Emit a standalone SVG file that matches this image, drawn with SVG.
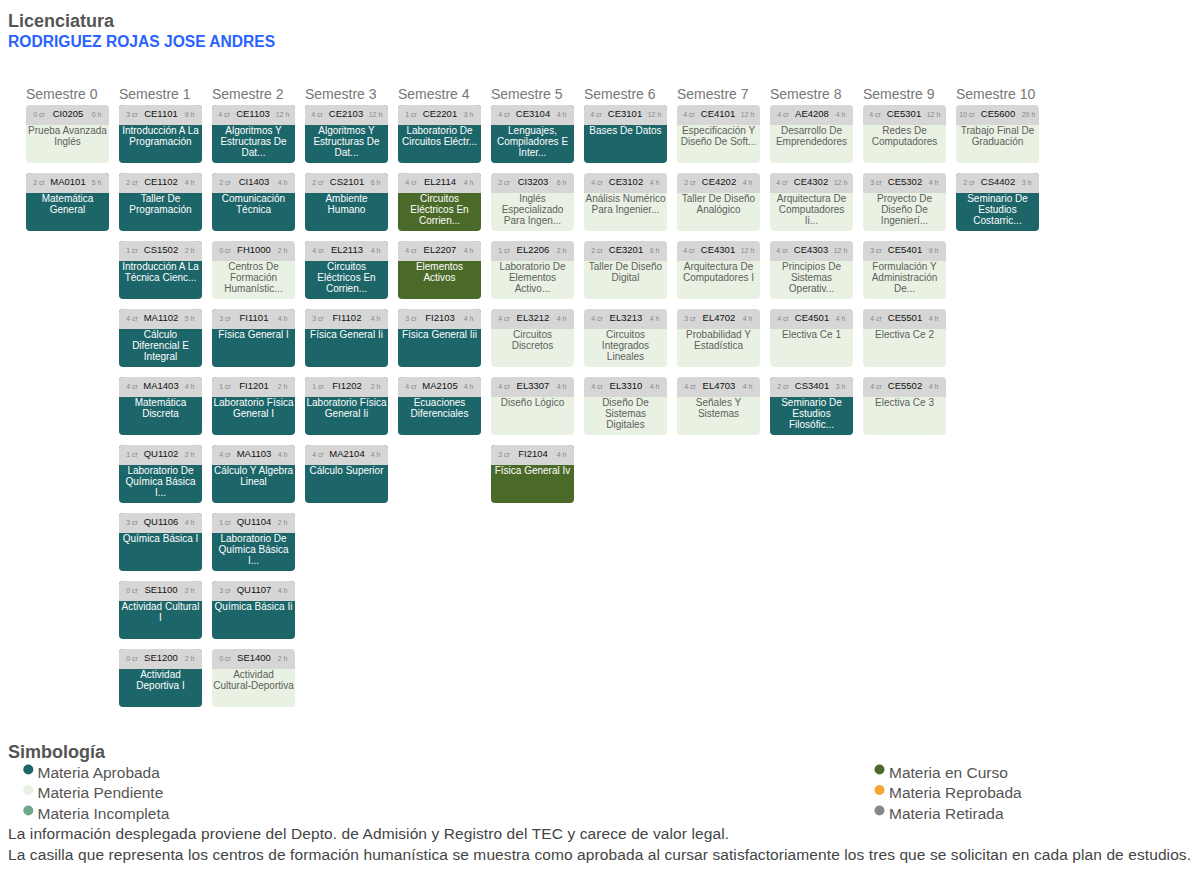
<svg xmlns="http://www.w3.org/2000/svg" width="1194" height="872" viewBox="0 0 1194 872">
<style>
text{font-family:"Liberation Sans",Arial,sans-serif}
.title{font-size:18px;font-weight:bold;fill:#555}
.name{font-size:15.6px;font-weight:bold;fill:#2962ff}
.sem{font-size:14px;fill:#777}
.hd{fill:#d6d6d6}
.ok .bd{fill:#1c6569}
.pe .bd{fill:#e9f1e2}
.cu .bd{fill:#4b6a2a}
.cr,.hr{font-size:7px;fill:#888;text-anchor:middle}
.cd{font-size:9.5px;fill:#111;text-anchor:middle}
.tt{font-size:10px;text-anchor:middle}
.ok .tt,.cu .tt{fill:#fff}
.pe .tt{fill:#5e5e5e}
.lg{font-size:15.5px;fill:#555}
.ft{font-size:15.5px;fill:#444}
</style>
<defs>
<path id="head" d="M0 20V4a4 4 0 0 1 4-4h75a4 4 0 0 1 4 4v16z"/>
</defs>

<text class="title" x="8" y="27">Licenciatura</text>
<text class="name" x="8" y="47">RODRIGUEZ ROJAS JOSE ANDRES</text>

<g id="semesters">
<text class="sem" x="26" y="99">Semestre 0</text>
<text class="sem" x="119" y="99">Semestre 1</text>
<text class="sem" x="212" y="99">Semestre 2</text>
<text class="sem" x="305" y="99">Semestre 3</text>
<text class="sem" x="398" y="99">Semestre 4</text>
<text class="sem" x="491" y="99">Semestre 5</text>
<text class="sem" x="584" y="99">Semestre 6</text>
<text class="sem" x="677" y="99">Semestre 7</text>
<text class="sem" x="770" y="99">Semestre 8</text>
<text class="sem" x="863" y="99">Semestre 9</text>
<text class="sem" x="956" y="99">Semestre 10</text>
</g>

<!-- Semestre 0 -->
<g id="CI0205" class="pe" transform="translate(26 105)"><rect class="bd" width="83" height="58" rx="4"/><use href="#head" class="hd"/><text class="cr" x="13" y="12.3">0 cr</text><text class="cd" x="42" y="12.3">CI0205</text><text class="hr" x="70.5" y="12.3">0 h</text><text class="tt" y="29"><tspan x="41.5">Prueba Avanzada</tspan><tspan x="41.5" dy="11">Inglés</tspan></text></g>
<g id="MA0101" class="ok" transform="translate(26 173)"><rect class="bd" width="83" height="58" rx="4"/><use href="#head" class="hd"/><text class="cr" x="13" y="12.3">2 cr</text><text class="cd" x="42" y="12.3">MA0101</text><text class="hr" x="70.5" y="12.3">5 h</text><text class="tt" y="29"><tspan x="41.5">Matemática</tspan><tspan x="41.5" dy="11">General</tspan></text></g>

<!-- Semestre 1 -->
<g id="CE1101" class="ok" transform="translate(119 105)"><rect class="bd" width="83" height="58" rx="4"/><use href="#head" class="hd"/><text class="cr" x="13" y="12.3">3 cr</text><text class="cd" x="42" y="12.3">CE1101</text><text class="hr" x="70.5" y="12.3">9 h</text><text class="tt" y="29"><tspan x="41.5">Introducción A La</tspan><tspan x="41.5" dy="11">Programación</tspan></text></g>
<g id="CE1102" class="ok" transform="translate(119 173)"><rect class="bd" width="83" height="58" rx="4"/><use href="#head" class="hd"/><text class="cr" x="13" y="12.3">2 cr</text><text class="cd" x="42" y="12.3">CE1102</text><text class="hr" x="70.5" y="12.3">4 h</text><text class="tt" y="29"><tspan x="41.5">Taller De</tspan><tspan x="41.5" dy="11">Programación</tspan></text></g>
<g id="CS1502" class="ok" transform="translate(119 241)"><rect class="bd" width="83" height="58" rx="4"/><use href="#head" class="hd"/><text class="cr" x="13" y="12.3">1 cr</text><text class="cd" x="42" y="12.3">CS1502</text><text class="hr" x="70.5" y="12.3">2 h</text><text class="tt" y="29"><tspan x="41.5">Introducción A La</tspan><tspan x="41.5" dy="11">Técnica Cienc...</tspan></text></g>
<g id="MA1102" class="ok" transform="translate(119 309)"><rect class="bd" width="83" height="58" rx="4"/><use href="#head" class="hd"/><text class="cr" x="13" y="12.3">4 cr</text><text class="cd" x="42" y="12.3">MA1102</text><text class="hr" x="70.5" y="12.3">5 h</text><text class="tt" y="29"><tspan x="41.5">Cálculo</tspan><tspan x="41.5" dy="11">Diferencial E</tspan><tspan x="41.5" dy="11">Integral</tspan></text></g>
<g id="MA1403" class="ok" transform="translate(119 377)"><rect class="bd" width="83" height="58" rx="4"/><use href="#head" class="hd"/><text class="cr" x="13" y="12.3">4 cr</text><text class="cd" x="42" y="12.3">MA1403</text><text class="hr" x="70.5" y="12.3">4 h</text><text class="tt" y="29"><tspan x="41.5">Matemática</tspan><tspan x="41.5" dy="11">Discreta</tspan></text></g>
<g id="QU1102" class="ok" transform="translate(119 445)"><rect class="bd" width="83" height="58" rx="4"/><use href="#head" class="hd"/><text class="cr" x="13" y="12.3">1 cr</text><text class="cd" x="42" y="12.3">QU1102</text><text class="hr" x="70.5" y="12.3">2 h</text><text class="tt" y="29"><tspan x="41.5">Laboratorio De</tspan><tspan x="41.5" dy="11">Química Básica</tspan><tspan x="41.5" dy="11">I...</tspan></text></g>
<g id="QU1106" class="ok" transform="translate(119 513)"><rect class="bd" width="83" height="58" rx="4"/><use href="#head" class="hd"/><text class="cr" x="13" y="12.3">3 cr</text><text class="cd" x="42" y="12.3">QU1106</text><text class="hr" x="70.5" y="12.3">4 h</text><text class="tt" y="29"><tspan x="41.5">Química Básica I</tspan></text></g>
<g id="SE1100" class="ok" transform="translate(119 581)"><rect class="bd" width="83" height="58" rx="4"/><use href="#head" class="hd"/><text class="cr" x="13" y="12.3">0 cr</text><text class="cd" x="42" y="12.3">SE1100</text><text class="hr" x="70.5" y="12.3">2 h</text><text class="tt" y="29"><tspan x="41.5">Actividad Cultural</tspan><tspan x="41.5" dy="11">I</tspan></text></g>
<g id="SE1200" class="ok" transform="translate(119 649)"><rect class="bd" width="83" height="58" rx="4"/><use href="#head" class="hd"/><text class="cr" x="13" y="12.3">0 cr</text><text class="cd" x="42" y="12.3">SE1200</text><text class="hr" x="70.5" y="12.3">2 h</text><text class="tt" y="29"><tspan x="41.5">Actividad</tspan><tspan x="41.5" dy="11">Deportiva I</tspan></text></g>

<!-- Semestre 2 -->
<g id="CE1103" class="ok" transform="translate(212 105)"><rect class="bd" width="83" height="58" rx="4"/><use href="#head" class="hd"/><text class="cr" x="12" y="12.3">4 cr</text><text class="cd" x="41" y="12.3">CE1103</text><text class="hr" x="70.5" y="12.3">12 h</text><text class="tt" y="29"><tspan x="41.5">Algoritmos Y</tspan><tspan x="41.5" dy="11">Estructuras De</tspan><tspan x="41.5" dy="11">Dat...</tspan></text></g>
<g id="CI1403" class="ok" transform="translate(212 173)"><rect class="bd" width="83" height="58" rx="4"/><use href="#head" class="hd"/><text class="cr" x="13" y="12.3">2 cr</text><text class="cd" x="42" y="12.3">CI1403</text><text class="hr" x="70.5" y="12.3">4 h</text><text class="tt" y="29"><tspan x="41.5">Comunicación</tspan><tspan x="41.5" dy="11">Técnica</tspan></text></g>
<g id="FH1000" class="pe" transform="translate(212 241)"><rect class="bd" width="83" height="58" rx="4"/><use href="#head" class="hd"/><text class="cr" x="13" y="12.3">0 cr</text><text class="cd" x="42" y="12.3">FH1000</text><text class="hr" x="70.5" y="12.3">2 h</text><text class="tt" y="29"><tspan x="41.5">Centros De</tspan><tspan x="41.5" dy="11">Formación</tspan><tspan x="41.5" dy="11">Humanístic...</tspan></text></g>
<g id="FI1101" class="ok" transform="translate(212 309)"><rect class="bd" width="83" height="58" rx="4"/><use href="#head" class="hd"/><text class="cr" x="13" y="12.3">3 cr</text><text class="cd" x="42" y="12.3">FI1101</text><text class="hr" x="70.5" y="12.3">4 h</text><text class="tt" y="29"><tspan x="41.5">Física General I</tspan></text></g>
<g id="FI1201" class="ok" transform="translate(212 377)"><rect class="bd" width="83" height="58" rx="4"/><use href="#head" class="hd"/><text class="cr" x="13" y="12.3">1 cr</text><text class="cd" x="42" y="12.3">FI1201</text><text class="hr" x="70.5" y="12.3">2 h</text><text class="tt" y="29"><tspan x="41.5">Laboratorio Física</tspan><tspan x="41.5" dy="11">General I</tspan></text></g>
<g id="MA1103" class="ok" transform="translate(212 445)"><rect class="bd" width="83" height="58" rx="4"/><use href="#head" class="hd"/><text class="cr" x="13" y="12.3">4 cr</text><text class="cd" x="42" y="12.3">MA1103</text><text class="hr" x="70.5" y="12.3">4 h</text><text class="tt" y="29"><tspan x="41.5">Cálculo Y Algebra</tspan><tspan x="41.5" dy="11">Lineal</tspan></text></g>
<g id="QU1104" class="ok" transform="translate(212 513)"><rect class="bd" width="83" height="58" rx="4"/><use href="#head" class="hd"/><text class="cr" x="13" y="12.3">1 cr</text><text class="cd" x="42" y="12.3">QU1104</text><text class="hr" x="70.5" y="12.3">2 h</text><text class="tt" y="29"><tspan x="41.5">Laboratorio De</tspan><tspan x="41.5" dy="11">Química Básica</tspan><tspan x="41.5" dy="11">I...</tspan></text></g>
<g id="QU1107" class="ok" transform="translate(212 581)"><rect class="bd" width="83" height="58" rx="4"/><use href="#head" class="hd"/><text class="cr" x="13" y="12.3">3 cr</text><text class="cd" x="42" y="12.3">QU1107</text><text class="hr" x="70.5" y="12.3">4 h</text><text class="tt" y="29"><tspan x="41.5">Química Básica Ii</tspan></text></g>
<g id="SE1400" class="pe" transform="translate(212 649)"><rect class="bd" width="83" height="58" rx="4"/><use href="#head" class="hd"/><text class="cr" x="13" y="12.3">0 cr</text><text class="cd" x="42" y="12.3">SE1400</text><text class="hr" x="70.5" y="12.3">2 h</text><text class="tt" y="29"><tspan x="41.5">Actividad</tspan><tspan x="41.5" dy="11">Cultural-Deportiva</tspan></text></g>

<!-- Semestre 3 -->
<g id="CE2103" class="ok" transform="translate(305 105)"><rect class="bd" width="83" height="58" rx="4"/><use href="#head" class="hd"/><text class="cr" x="12" y="12.3">4 cr</text><text class="cd" x="41" y="12.3">CE2103</text><text class="hr" x="70.5" y="12.3">12 h</text><text class="tt" y="29"><tspan x="41.5">Algoritmos Y</tspan><tspan x="41.5" dy="11">Estructuras De</tspan><tspan x="41.5" dy="11">Dat...</tspan></text></g>
<g id="CS2101" class="ok" transform="translate(305 173)"><rect class="bd" width="83" height="58" rx="4"/><use href="#head" class="hd"/><text class="cr" x="13" y="12.3">2 cr</text><text class="cd" x="42" y="12.3">CS2101</text><text class="hr" x="70.5" y="12.3">6 h</text><text class="tt" y="29"><tspan x="41.5">Ambiente</tspan><tspan x="41.5" dy="11">Humano</tspan></text></g>
<g id="EL2113" class="ok" transform="translate(305 241)"><rect class="bd" width="83" height="58" rx="4"/><use href="#head" class="hd"/><text class="cr" x="13" y="12.3">4 cr</text><text class="cd" x="42" y="12.3">EL2113</text><text class="hr" x="70.5" y="12.3">4 h</text><text class="tt" y="29"><tspan x="41.5">Circuitos</tspan><tspan x="41.5" dy="11">Eléctricos En</tspan><tspan x="41.5" dy="11">Corrien...</tspan></text></g>
<g id="FI1102" class="ok" transform="translate(305 309)"><rect class="bd" width="83" height="58" rx="4"/><use href="#head" class="hd"/><text class="cr" x="13" y="12.3">3 cr</text><text class="cd" x="42" y="12.3">FI1102</text><text class="hr" x="70.5" y="12.3">4 h</text><text class="tt" y="29"><tspan x="41.5">Física General Ii</tspan></text></g>
<g id="FI1202" class="ok" transform="translate(305 377)"><rect class="bd" width="83" height="58" rx="4"/><use href="#head" class="hd"/><text class="cr" x="13" y="12.3">1 cr</text><text class="cd" x="42" y="12.3">FI1202</text><text class="hr" x="70.5" y="12.3">2 h</text><text class="tt" y="29"><tspan x="41.5">Laboratorio Física</tspan><tspan x="41.5" dy="11">General Ii</tspan></text></g>
<g id="MA2104" class="ok" transform="translate(305 445)"><rect class="bd" width="83" height="58" rx="4"/><use href="#head" class="hd"/><text class="cr" x="13" y="12.3">4 cr</text><text class="cd" x="42" y="12.3">MA2104</text><text class="hr" x="70.5" y="12.3">4 h</text><text class="tt" y="29"><tspan x="41.5">Cálculo Superior</tspan></text></g>

<!-- Semestre 4 -->
<g id="CE2201" class="ok" transform="translate(398 105)"><rect class="bd" width="83" height="58" rx="4"/><use href="#head" class="hd"/><text class="cr" x="13" y="12.3">1 cr</text><text class="cd" x="42" y="12.3">CE2201</text><text class="hr" x="70.5" y="12.3">3 h</text><text class="tt" y="29"><tspan x="41.5">Laboratorio De</tspan><tspan x="41.5" dy="11">Circuitos Eléctr...</tspan></text></g>
<g id="EL2114" class="cu" transform="translate(398 173)"><rect class="bd" width="83" height="58" rx="4"/><use href="#head" class="hd"/><text class="cr" x="13" y="12.3">4 cr</text><text class="cd" x="42" y="12.3">EL2114</text><text class="hr" x="70.5" y="12.3">4 h</text><text class="tt" y="29"><tspan x="41.5">Circuitos</tspan><tspan x="41.5" dy="11">Eléctricos En</tspan><tspan x="41.5" dy="11">Corrien...</tspan></text></g>
<g id="EL2207" class="cu" transform="translate(398 241)"><rect class="bd" width="83" height="58" rx="4"/><use href="#head" class="hd"/><text class="cr" x="13" y="12.3">4 cr</text><text class="cd" x="42" y="12.3">EL2207</text><text class="hr" x="70.5" y="12.3">4 h</text><text class="tt" y="29"><tspan x="41.5">Elementos</tspan><tspan x="41.5" dy="11">Activos</tspan></text></g>
<g id="FI2103" class="ok" transform="translate(398 309)"><rect class="bd" width="83" height="58" rx="4"/><use href="#head" class="hd"/><text class="cr" x="13" y="12.3">3 cr</text><text class="cd" x="42" y="12.3">FI2103</text><text class="hr" x="70.5" y="12.3">4 h</text><text class="tt" y="29"><tspan x="41.5">Física General Iii</tspan></text></g>
<g id="MA2105" class="ok" transform="translate(398 377)"><rect class="bd" width="83" height="58" rx="4"/><use href="#head" class="hd"/><text class="cr" x="13" y="12.3">4 cr</text><text class="cd" x="42" y="12.3">MA2105</text><text class="hr" x="70.5" y="12.3">4 h</text><text class="tt" y="29"><tspan x="41.5">Ecuaciones</tspan><tspan x="41.5" dy="11">Diferenciales</tspan></text></g>

<!-- Semestre 5 -->
<g id="CE3104" class="ok" transform="translate(491 105)"><rect class="bd" width="83" height="58" rx="4"/><use href="#head" class="hd"/><text class="cr" x="13" y="12.3">4 cr</text><text class="cd" x="42" y="12.3">CE3104</text><text class="hr" x="70.5" y="12.3">4 h</text><text class="tt" y="29"><tspan x="41.5">Lenguajes,</tspan><tspan x="41.5" dy="11">Compiladores E</tspan><tspan x="41.5" dy="11">Inter...</tspan></text></g>
<g id="CI3203" class="pe" transform="translate(491 173)"><rect class="bd" width="83" height="58" rx="4"/><use href="#head" class="hd"/><text class="cr" x="13" y="12.3">2 cr</text><text class="cd" x="42" y="12.3">CI3203</text><text class="hr" x="70.5" y="12.3">6 h</text><text class="tt" y="29"><tspan x="41.5">Inglés</tspan><tspan x="41.5" dy="11">Especializado</tspan><tspan x="41.5" dy="11">Para Ingen...</tspan></text></g>
<g id="EL2206" class="pe" transform="translate(491 241)"><rect class="bd" width="83" height="58" rx="4"/><use href="#head" class="hd"/><text class="cr" x="13" y="12.3">1 cr</text><text class="cd" x="42" y="12.3">EL2206</text><text class="hr" x="70.5" y="12.3">2 h</text><text class="tt" y="29"><tspan x="41.5">Laboratorio De</tspan><tspan x="41.5" dy="11">Elementos</tspan><tspan x="41.5" dy="11">Activo...</tspan></text></g>
<g id="EL3212" class="pe" transform="translate(491 309)"><rect class="bd" width="83" height="58" rx="4"/><use href="#head" class="hd"/><text class="cr" x="13" y="12.3">4 cr</text><text class="cd" x="42" y="12.3">EL3212</text><text class="hr" x="70.5" y="12.3">4 h</text><text class="tt" y="29"><tspan x="41.5">Circuitos</tspan><tspan x="41.5" dy="11">Discretos</tspan></text></g>
<g id="EL3307" class="pe" transform="translate(491 377)"><rect class="bd" width="83" height="58" rx="4"/><use href="#head" class="hd"/><text class="cr" x="13" y="12.3">4 cr</text><text class="cd" x="42" y="12.3">EL3307</text><text class="hr" x="70.5" y="12.3">4 h</text><text class="tt" y="29"><tspan x="41.5">Diseño Lógico</tspan></text></g>
<g id="FI2104" class="cu" transform="translate(491 445)"><rect class="bd" width="83" height="58" rx="4"/><use href="#head" class="hd"/><text class="cr" x="13" y="12.3">3 cr</text><text class="cd" x="42" y="12.3">FI2104</text><text class="hr" x="70.5" y="12.3">4 h</text><text class="tt" y="29"><tspan x="41.5">Física General Iv</tspan></text></g>

<!-- Semestre 6 -->
<g id="CE3101" class="ok" transform="translate(584 105)"><rect class="bd" width="83" height="58" rx="4"/><use href="#head" class="hd"/><text class="cr" x="12" y="12.3">4 cr</text><text class="cd" x="41" y="12.3">CE3101</text><text class="hr" x="70.5" y="12.3">12 h</text><text class="tt" y="29"><tspan x="41.5">Bases De Datos</tspan></text></g>
<g id="CE3102" class="pe" transform="translate(584 173)"><rect class="bd" width="83" height="58" rx="4"/><use href="#head" class="hd"/><text class="cr" x="13" y="12.3">4 cr</text><text class="cd" x="42" y="12.3">CE3102</text><text class="hr" x="70.5" y="12.3">4 h</text><text class="tt" y="29"><tspan x="41.5">Análisis Numérico</tspan><tspan x="41.5" dy="11">Para Ingenier...</tspan></text></g>
<g id="CE3201" class="pe" transform="translate(584 241)"><rect class="bd" width="83" height="58" rx="4"/><use href="#head" class="hd"/><text class="cr" x="13" y="12.3">2 cr</text><text class="cd" x="42" y="12.3">CE3201</text><text class="hr" x="70.5" y="12.3">6 h</text><text class="tt" y="29"><tspan x="41.5">Taller De Diseño</tspan><tspan x="41.5" dy="11">Digital</tspan></text></g>
<g id="EL3213" class="pe" transform="translate(584 309)"><rect class="bd" width="83" height="58" rx="4"/><use href="#head" class="hd"/><text class="cr" x="13" y="12.3">4 cr</text><text class="cd" x="42" y="12.3">EL3213</text><text class="hr" x="70.5" y="12.3">4 h</text><text class="tt" y="29"><tspan x="41.5">Circuitos</tspan><tspan x="41.5" dy="11">Integrados</tspan><tspan x="41.5" dy="11">Lineales</tspan></text></g>
<g id="EL3310" class="pe" transform="translate(584 377)"><rect class="bd" width="83" height="58" rx="4"/><use href="#head" class="hd"/><text class="cr" x="13" y="12.3">4 cr</text><text class="cd" x="42" y="12.3">EL3310</text><text class="hr" x="70.5" y="12.3">4 h</text><text class="tt" y="29"><tspan x="41.5">Diseño De</tspan><tspan x="41.5" dy="11">Sistemas</tspan><tspan x="41.5" dy="11">Digitales</tspan></text></g>

<!-- Semestre 7 -->
<g id="CE4101" class="pe" transform="translate(677 105)"><rect class="bd" width="83" height="58" rx="4"/><use href="#head" class="hd"/><text class="cr" x="12" y="12.3">4 cr</text><text class="cd" x="41" y="12.3">CE4101</text><text class="hr" x="70.5" y="12.3">12 h</text><text class="tt" y="29"><tspan x="41.5">Especificación Y</tspan><tspan x="41.5" dy="11">Diseño De Soft...</tspan></text></g>
<g id="CE4202" class="pe" transform="translate(677 173)"><rect class="bd" width="83" height="58" rx="4"/><use href="#head" class="hd"/><text class="cr" x="13" y="12.3">2 cr</text><text class="cd" x="42" y="12.3">CE4202</text><text class="hr" x="70.5" y="12.3">4 h</text><text class="tt" y="29"><tspan x="41.5">Taller De Diseño</tspan><tspan x="41.5" dy="11">Analógico</tspan></text></g>
<g id="CE4301" class="pe" transform="translate(677 241)"><rect class="bd" width="83" height="58" rx="4"/><use href="#head" class="hd"/><text class="cr" x="12" y="12.3">4 cr</text><text class="cd" x="41" y="12.3">CE4301</text><text class="hr" x="70.5" y="12.3">12 h</text><text class="tt" y="29"><tspan x="41.5">Arquitectura De</tspan><tspan x="41.5" dy="11">Computadores I</tspan></text></g>
<g id="EL4702" class="pe" transform="translate(677 309)"><rect class="bd" width="83" height="58" rx="4"/><use href="#head" class="hd"/><text class="cr" x="13" y="12.3">3 cr</text><text class="cd" x="42" y="12.3">EL4702</text><text class="hr" x="70.5" y="12.3">4 h</text><text class="tt" y="29"><tspan x="41.5">Probabilidad Y</tspan><tspan x="41.5" dy="11">Estadística</tspan></text></g>
<g id="EL4703" class="pe" transform="translate(677 377)"><rect class="bd" width="83" height="58" rx="4"/><use href="#head" class="hd"/><text class="cr" x="13" y="12.3">4 cr</text><text class="cd" x="42" y="12.3">EL4703</text><text class="hr" x="70.5" y="12.3">4 h</text><text class="tt" y="29"><tspan x="41.5">Señales Y</tspan><tspan x="41.5" dy="11">Sistemas</tspan></text></g>

<!-- Semestre 8 -->
<g id="AE4208" class="pe" transform="translate(770 105)"><rect class="bd" width="83" height="58" rx="4"/><use href="#head" class="hd"/><text class="cr" x="13" y="12.3">4 cr</text><text class="cd" x="42" y="12.3">AE4208</text><text class="hr" x="70.5" y="12.3">4 h</text><text class="tt" y="29"><tspan x="41.5">Desarrollo De</tspan><tspan x="41.5" dy="11">Emprendedores</tspan></text></g>
<g id="CE4302" class="pe" transform="translate(770 173)"><rect class="bd" width="83" height="58" rx="4"/><use href="#head" class="hd"/><text class="cr" x="12" y="12.3">4 cr</text><text class="cd" x="41" y="12.3">CE4302</text><text class="hr" x="70.5" y="12.3">12 h</text><text class="tt" y="29"><tspan x="41.5">Arquitectura De</tspan><tspan x="41.5" dy="11">Computadores</tspan><tspan x="41.5" dy="11">Ii...</tspan></text></g>
<g id="CE4303" class="pe" transform="translate(770 241)"><rect class="bd" width="83" height="58" rx="4"/><use href="#head" class="hd"/><text class="cr" x="12" y="12.3">4 cr</text><text class="cd" x="41" y="12.3">CE4303</text><text class="hr" x="70.5" y="12.3">12 h</text><text class="tt" y="29"><tspan x="41.5">Principios De</tspan><tspan x="41.5" dy="11">Sistemas</tspan><tspan x="41.5" dy="11">Operativ...</tspan></text></g>
<g id="CE4501" class="pe" transform="translate(770 309)"><rect class="bd" width="83" height="58" rx="4"/><use href="#head" class="hd"/><text class="cr" x="13" y="12.3">4 cr</text><text class="cd" x="42" y="12.3">CE4501</text><text class="hr" x="70.5" y="12.3">4 h</text><text class="tt" y="29"><tspan x="41.5">Electiva Ce 1</tspan></text></g>
<g id="CS3401" class="ok" transform="translate(770 377)"><rect class="bd" width="83" height="58" rx="4"/><use href="#head" class="hd"/><text class="cr" x="13" y="12.3">2 cr</text><text class="cd" x="42" y="12.3">CS3401</text><text class="hr" x="70.5" y="12.3">3 h</text><text class="tt" y="29"><tspan x="41.5">Seminario De</tspan><tspan x="41.5" dy="11">Estudios</tspan><tspan x="41.5" dy="11">Filosófic...</tspan></text></g>

<!-- Semestre 9 -->
<g id="CE5301" class="pe" transform="translate(863 105)"><rect class="bd" width="83" height="58" rx="4"/><use href="#head" class="hd"/><text class="cr" x="12" y="12.3">4 cr</text><text class="cd" x="41" y="12.3">CE5301</text><text class="hr" x="70.5" y="12.3">12 h</text><text class="tt" y="29"><tspan x="41.5">Redes De</tspan><tspan x="41.5" dy="11">Computadores</tspan></text></g>
<g id="CE5302" class="pe" transform="translate(863 173)"><rect class="bd" width="83" height="58" rx="4"/><use href="#head" class="hd"/><text class="cr" x="13" y="12.3">3 cr</text><text class="cd" x="42" y="12.3">CE5302</text><text class="hr" x="70.5" y="12.3">4 h</text><text class="tt" y="29"><tspan x="41.5">Proyecto De</tspan><tspan x="41.5" dy="11">Diseño De</tspan><tspan x="41.5" dy="11">Ingenierí...</tspan></text></g>
<g id="CE5401" class="pe" transform="translate(863 241)"><rect class="bd" width="83" height="58" rx="4"/><use href="#head" class="hd"/><text class="cr" x="13" y="12.3">3 cr</text><text class="cd" x="42" y="12.3">CE5401</text><text class="hr" x="70.5" y="12.3">9 h</text><text class="tt" y="29"><tspan x="41.5">Formulación Y</tspan><tspan x="41.5" dy="11">Administración</tspan><tspan x="41.5" dy="11">De...</tspan></text></g>
<g id="CE5501" class="pe" transform="translate(863 309)"><rect class="bd" width="83" height="58" rx="4"/><use href="#head" class="hd"/><text class="cr" x="13" y="12.3">4 cr</text><text class="cd" x="42" y="12.3">CE5501</text><text class="hr" x="70.5" y="12.3">4 h</text><text class="tt" y="29"><tspan x="41.5">Electiva Ce 2</tspan></text></g>
<g id="CE5502" class="pe" transform="translate(863 377)"><rect class="bd" width="83" height="58" rx="4"/><use href="#head" class="hd"/><text class="cr" x="13" y="12.3">4 cr</text><text class="cd" x="42" y="12.3">CE5502</text><text class="hr" x="70.5" y="12.3">4 h</text><text class="tt" y="29"><tspan x="41.5">Electiva Ce 3</tspan></text></g>

<!-- Semestre 10 -->
<g id="CE5600" class="pe" transform="translate(956 105)"><rect class="bd" width="83" height="58" rx="4"/><use href="#head" class="hd"/><text class="cr" x="11" y="12.3">10 cr</text><text class="cd" x="42" y="12.3">CE5600</text><text class="hr" x="72.5" y="12.3">20 h</text><text class="tt" y="29"><tspan x="41.5">Trabajo Final De</tspan><tspan x="41.5" dy="11">Graduación</tspan></text></g>
<g id="CS4402" class="ok" transform="translate(956 173)"><rect class="bd" width="83" height="58" rx="4"/><use href="#head" class="hd"/><text class="cr" x="13" y="12.3">2 cr</text><text class="cd" x="42" y="12.3">CS4402</text><text class="hr" x="70.5" y="12.3">3 h</text><text class="tt" y="29"><tspan x="41.5">Seminario De</tspan><tspan x="41.5" dy="11">Estudios</tspan><tspan x="41.5" dy="11">Costarric...</tspan></text></g>

<!-- legend -->
<g id="legend">
<text class="title" x="8" y="757.5">Simbología</text>
<circle cx="28.3" cy="769.5" r="5" fill="#1c6569"/>
<text class="lg" x="37.5" y="777.7">Materia Aprobada</text>
<circle cx="28.3" cy="790" r="5" fill="#e9f1e2"/>
<text class="lg" x="37.5" y="798.3">Materia Pendiente</text>
<circle cx="28.3" cy="810.5" r="5" fill="#70a78b"/>
<text class="lg" x="37.5" y="818.5">Materia Incompleta</text>
<circle cx="879.5" cy="769.5" r="5" fill="#4b6a2a"/>
<text class="lg" x="889" y="777.7">Materia en Curso</text>
<circle cx="879.5" cy="790" r="5" fill="#f7a634"/>
<text class="lg" x="889" y="798.3">Materia Reprobada</text>
<circle cx="879.5" cy="810.5" r="5" fill="#868886"/>
<text class="lg" x="889" y="818.5">Materia Retirada</text>
</g>

<text class="ft" x="8" y="838.5" textLength="721" lengthAdjust="spacing">La información desplegada proviene del Depto. de Admisión y Registro del TEC y carece de valor legal.</text>
<text class="ft" x="8" y="859.5" textLength="1183" lengthAdjust="spacing">La casilla que representa los centros de formación humanística se muestra como aprobada al cursar satisfactoriamente los tres que se solicitan en cada plan de estudios.</text>
</svg>
